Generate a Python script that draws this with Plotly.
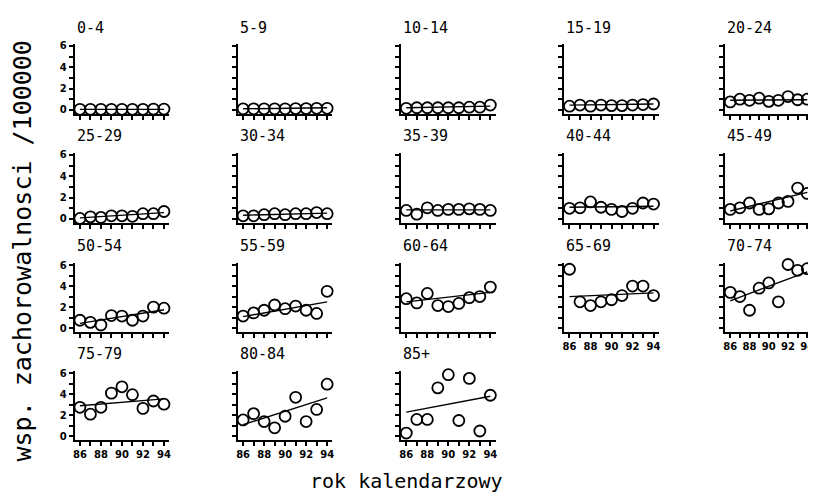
import plotly.graph_objects as go

years = [86, 87, 88, 89, 90, 91, 92, 93, 94]
year_labels = ["86", "", "88", "", "90", "", "92", "", "94"]
y_ticks = [0, 1, 2, 3, 4, 5, 6]
y_labels = ["0", "", "2", "", "4", "", "6"]

age_groups = ["0-4", "5-9", "10-14", "15-19", "20-24",
              "25-29", "30-34", "35-39", "40-44", "45-49",
              "50-54", "55-59", "60-64", "65-69", "70-74",
              "75-79", "80-84", "85+"]

r_0_4 = [0.05, 0.05, 0.05, 0.05, 0.05, 0.05, 0.05, 0.08, 0.08]
r_5_9 = [0.1, 0.1, 0.1, 0.1, 0.1, 0.12, 0.12, 0.15, 0.15]
r_10_14 = [0.15, 0.2, 0.2, 0.2, 0.2, 0.2, 0.25, 0.25, 0.45]
r_15_19 = [0.35, 0.45, 0.35, 0.45, 0.4, 0.4, 0.45, 0.5, 0.55]
r_20_24 = [0.75, 1.0, 0.9, 1.1, 0.8, 0.9, 1.25, 0.95, 1.0]
r_25_29 = [0.05, 0.2, 0.15, 0.3, 0.3, 0.25, 0.5, 0.5, 0.7]
r_30_34 = [0.3, 0.3, 0.4, 0.5, 0.4, 0.5, 0.5, 0.6, 0.5]
r_35_39 = [0.8, 0.45, 1.05, 0.8, 0.9, 0.9, 0.95, 0.9, 0.8]
r_40_44 = [1.0, 1.05, 1.6, 1.1, 0.9, 0.7, 1.0, 1.5, 1.4]
r_45_49 = [0.9, 1.05, 1.5, 0.9, 0.95, 1.5, 1.65, 2.9, 2.4]
r_50_54 = [0.75, 0.55, 0.3, 1.2, 1.15, 0.75, 1.15, 2.0, 1.9]
r_55_59 = [1.15, 1.45, 1.7, 2.2, 1.85, 2.1, 1.7, 1.4, 3.5]
r_60_64 = [2.8, 2.4, 3.3, 2.15, 2.05, 2.35, 2.9, 3.0, 3.9]
r_65_69 = [5.6, 2.5, 2.15, 2.5, 2.7, 3.1, 4.0, 4.0, 3.1]
r_70_74 = [3.4, 3.0, 1.7, 3.8, 4.3, 2.5, 6.05, 5.5, 5.65]
r_75_79 = [2.75, 2.1, 2.75, 4.1, 4.7, 3.95, 2.65, 3.35, 3.05]
r_80_84 = [1.55, 2.15, 1.4, 0.8, 1.9, 3.7, 1.4, 2.55, 4.95]
r_85_plus = [0.3, 1.6, 1.6, 4.6, 5.85, 1.5, 5.5, 0.5, 3.9]

# fitted trend line values at 1986 and 1994
trend_86 = [0.05, 0.1, 0.2, 0.45, 0.9, 0.1, 0.35, 0.85, 1.1, 0.75,
            0.45, 1.1, 2.5, 3.0, 2.6, 2.9, 1.1, 2.3]
trend_94 = [0.05, 0.2, 0.35, 0.55, 0.95, 0.6, 0.55, 0.85, 1.2, 2.5,
            1.75, 2.5, 3.4, 3.35, 5.35, 3.55, 3.65, 3.8]

rates = [r_0_4, r_5_9, r_10_14, r_15_19, r_20_24, r_25_29, r_30_34,
         r_35_39, r_40_44, r_45_49, r_50_54, r_55_59, r_60_64, r_65_69,
         r_70_74, r_75_79, r_80_84, r_85_plus]

# the page body has an 8px default margin; lay out in window pixels
OFF = 8
WIN_W, WIN_H = 816, 498
W, H = WIN_W - OFF, WIN_H - OFF


def px(x):
    return (x - OFF) / W


def py(y):
    return 1 - (y - OFF) / H


col_x = [73, 237, 401, 565, 727]          # window-pixel x of each column's y-axis
row_top = [41, 151, 262, 371]             # window-pixel y of top of each panel
row_bot = [112, 222, 332, 441]            # window-pixel y of x-axis line
title_y = [25, 134, 245, 354]
panel_w = 95
x0 = 85.5
y_range = [-0.4, 6.2]

FONT = "DejaVu Sans Mono"
TICKFONT = dict(family="DejaVu Sans", size=10, color="black", weight="bold")
fig = go.Figure()
layout = dict(
    width=W, height=H, margin=dict(l=0, r=0, t=0, b=0),
    paper_bgcolor="white", plot_bgcolor="white", showlegend=False,
)
annotations = []

for i, (name, vals) in enumerate(zip(age_groups, rates)):
    r, c = divmod(i, 5)
    k = i + 1
    xa = "x" if k == 1 else f"x{k}"
    ya = "y" if k == 1 else f"y{k}"
    left = col_x[c]
    right = min(left + panel_w, WIN_W)
    x1 = 94.5 if right - left >= panel_w else 94.7
    bottom_panel = (i + 5) >= len(age_groups)
    fig.add_trace(go.Scatter(
        x=[years[0], years[-1]], y=[trend_86[i], trend_94[i]],
        mode="lines", line=dict(color="black", width=1.4),
        xaxis=xa, yaxis=ya, hoverinfo="skip", cliponaxis=False))
    fig.add_trace(go.Scatter(
        x=years, y=vals, mode="markers",
        marker=dict(symbol="circle-open", size=11, color="black",
                    line=dict(width=1.8, color="black")),
        xaxis=xa, yaxis=ya, cliponaxis=False))
    layout["xaxis" if k == 1 else f"xaxis{k}"] = dict(
        domain=[px(left), min(px(right), 1.0)], range=[x0, x1], anchor=ya,
        showline=True, linecolor="black", linewidth=2,
        showgrid=False, zeroline=False,
        ticks="outside", ticklen=4, tickwidth=1.5, tickcolor="black",
        tickvals=years, ticktext=year_labels if bottom_panel else [""] * 9,
        tickfont=TICKFONT, ticklabeloverflow="allow", fixedrange=True,
    )
    layout["yaxis" if k == 1 else f"yaxis{k}"] = dict(
        domain=[py(row_bot[r]), py(row_top[r])], range=y_range,
        anchor=xa, showline=True, linecolor="black", linewidth=2,
        showgrid=False, zeroline=False,
        ticks="outside", ticklen=4, tickwidth=1.5, tickcolor="black",
        tickvals=y_ticks, ticktext=y_labels if c == 0 else [""] * 7,
        tickfont=TICKFONT, fixedrange=True,
    )
    annotations.append(dict(
        text=name, x=px(left), y=py(title_y[r]), xref="paper", yref="paper",
        xanchor="left", yanchor="middle", showarrow=False,
        font=dict(family=FONT, size=15, color="black")))

annotations.append(dict(
    text="wsp. zachorowalnosci /100000", x=px(OFF), y=py(250),
    xref="paper", yref="paper", xanchor="left", yanchor="middle",
    textangle=-90, showarrow=False, xshift=-4,
    font=dict(family=FONT, size=25, color="black")))
annotations.append(dict(
    text="rok kalendarzowy", x=px(406), y=py(482),
    xref="paper", yref="paper", xanchor="center", yanchor="middle",
    showarrow=False, font=dict(family=FONT, size=20, color="black")))

layout["annotations"] = annotations
fig.update_layout(**layout)
fig.write_html("out.html")
